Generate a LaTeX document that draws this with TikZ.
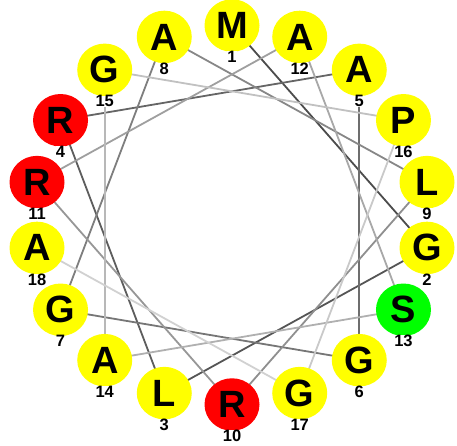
\documentclass[tikz,border=0pt]{standalone}
\usepackage{fontspec}
\setmainfont{Liberation Sans}
\usetikzlibrary{shapes.geometric,backgrounds}
\definecolor{resyellow}{RGB}{255,255,0}
\definecolor{resred}{RGB}{255,0,0}
\definecolor{resgreen}{RGB}{0,255,0}
\begin{document}
\begin{tikzpicture}[x=1pt,y=1pt,
  res/.style={ellipse, minimum width=55pt, minimum height=52.5pt, inner sep=0pt,
    font=\fontsize{38}{38}\selectfont\bfseries},
  num/.style={fill=white, inner sep=0pt, font=\fontsize{16.5}{16.5}\selectfont\bfseries},
  link/.style={line width=1.8pt}]
\useasboundingbox (0,0) rectangle (457,-445);
\foreach \i/\l/\c in {1/M/resyellow, 2/G/resyellow, 3/L/resyellow, 4/R/resred,
  5/A/resyellow, 6/G/resyellow, 7/G/resyellow, 8/A/resyellow, 9/L/resyellow,
  10/R/resred, 11/R/resred, 12/A/resyellow, 13/S/resgreen, 14/A/resyellow,
  15/G/resyellow, 16/P/resyellow, 17/G/resyellow, 18/A/resyellow} {
  \pgfmathsetmacro\ang{mod((\i-1)*100,360)}
  \pgfmathsetmacro\px{232+198*sin(\ang)}
  \pgfmathsetmacro\py{-215+189.5*cos(\ang)}
  \node[res, fill=\c] (r\i) at (\px,\py) {\l};
  \node[num] (n\i) at (\px,\py-31.5) {\i};
}
\begin{scope}[on background layer]
\foreach \i in {1,...,17} {
  \pgfmathtruncatemacro\j{\i+1}
  \pgfmathsetmacro\g{70-(\i-1)*52/16}
  \draw[link, black!\g!white] (r\i.center) -- (r\j.center);
}
\end{scope}
\end{tikzpicture}
\end{document}
